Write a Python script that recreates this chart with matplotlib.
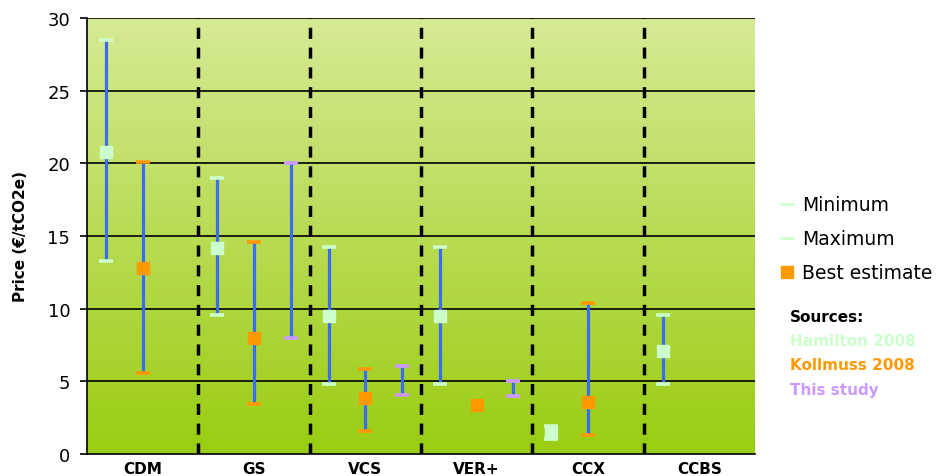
import numpy as np
import matplotlib.pyplot as plt
from matplotlib.lines import Line2D
from matplotlib.colors import LinearSegmentedColormap

categories = ['CDM', 'GS', 'VCS', 'VER+', 'CCX', 'CCBS']
sources = ['Hamilton 2008', 'Kollmuss 2008', 'This study']
source_colors = ['#ccffcc', '#ff9900', '#cc99ff']

# per source: min, max, best estimate for each category (None = missing)
hamilton_min = [13.3, 9.55, 4.85, 4.85, 1.0, 4.85]
hamilton_max = [28.5, 19.0, 14.25, 14.25, 1.95, 9.55]
hamilton_best = [20.8, 14.2, 9.5, 9.5, 1.45, 7.1]

kollmuss_min = [5.6, 3.45, 1.55, None, 1.33, None]
kollmuss_max = [20.1, 14.6, 5.85, None, 10.4, None]
kollmuss_best = [12.8, 8.0, 3.85, 3.4, 3.6, None]

study_min = [None, 8.0, 4.05, 4.0, None, None]
study_max = [None, 20.0, 6.05, 5.05, None, None]
study_best = [None, None, None, None, None, None]

mins = [hamilton_min, kollmuss_min, study_min]
maxs = [hamilton_max, kollmuss_max, study_max]
bests = [hamilton_best, kollmuss_best, study_best]
offsets = [-0.33, 0.0, 0.33]

fig = plt.figure(figsize=(9.37, 4.77), dpi=100)
ax = fig.add_axes([87 / 937, 1 - 455 / 477, 668 / 937, 436 / 477])

# gradient background, light at top, darker green at bottom
cmap = LinearSegmentedColormap.from_list('bg', ['#d6ea95', '#9acd12'])
grad = np.linspace(0, 1, 256).reshape(-1, 1)
ax.imshow(grad, cmap=cmap, aspect='auto', extent=[0, 6, 0, 30],
          origin='upper', zorder=0)

ax.set_xlim(0, 6)
ax.set_ylim(0, 30)

for y in range(5, 31, 5):
    ax.axhline(y, color='black', lw=1.2, zorder=1)

for xd in range(1, 6):
    ax.axvline(xd, color='black', lw=2.5, dashes=(3.2, 2.5), zorder=2)

for s in range(3):
    for i in range(len(categories)):
        x = i + 0.5 + offsets[s]
        lo, hi, be = mins[s][i], maxs[s][i], bests[s][i]
        if lo is not None and hi is not None:
            ax.vlines(x, lo, hi, color='#3a6cf4', lw=2.3, zorder=3)
            ax.plot([x, x], [lo, hi], ls='none', marker='_', ms=10,
                    mew=2.6, color=source_colors[s], zorder=4)
        if be is not None:
            ax.plot(x, be, ls='none', marker='s', ms=8.5,
                    color=source_colors[s], zorder=5)

ax.set_yticks(range(0, 31, 5))
ax.tick_params(axis='y', direction='out', length=5, width=1.2, labelsize=13,
               pad=7)
ax.set_xticks([i + 0.5 for i in range(len(categories))])
ax.set_xticklabels(categories, fontweight='bold', fontsize=11)
ax.tick_params(axis='x', length=0, pad=5)
for side in ['top', 'right']:
    ax.spines[side].set_visible(False)
ax.spines['left'].set_linewidth(1.2)
ax.spines['bottom'].set_linewidth(1.2)
ax.set_ylabel('Price (€/tCO2e)', fontweight='bold', fontsize=11, labelpad=14)

handles = [
    Line2D([], [], ls='none', marker='_', ms=10, mew=2, color='#ccffcc'),
    Line2D([], [], ls='none', marker='_', ms=10, mew=2, color='#ccffcc'),
    Line2D([], [], ls='none', marker='s', ms=8.5, color='#ff9900'),
]
fig.legend(handles, ['Minimum', 'Maximum', 'Best estimate'],
           loc='upper left', bbox_to_anchor=(770 / 937, 1 - 187 / 477),
           frameon=False, fontsize=13.5, handlelength=0.8, handletextpad=0.4,
           labelspacing=0.8, borderpad=0)

fig.text(790 / 937, 1 - 317 / 477, 'Sources:', fontweight='bold',
         fontsize=11, va='center')
for k, name in enumerate(sources):
    fig.text(790 / 937, 1 - (342 + 24 * k) / 477, name, fontweight='bold',
             fontsize=11, va='center', color=source_colors[k])

fig.savefig('out.png', dpi=100)
